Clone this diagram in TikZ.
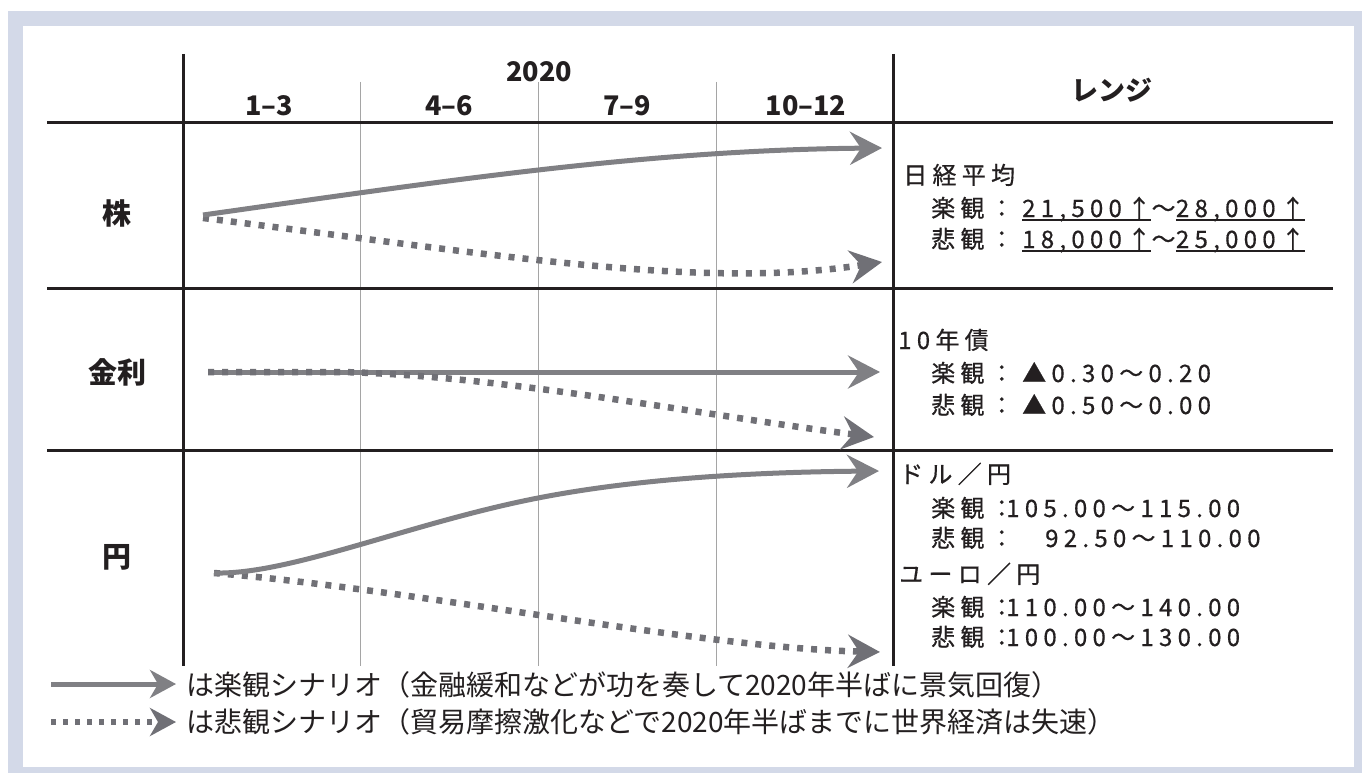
\documentclass[tikz,border=0pt]{standalone}
\usepackage{fontspec}
\setmainfont{Noto Sans CJK JP}
\newfontfamily\jp{Noto Sans CJK JP}
\newfontfamily\jpsp[LetterSpace=22,FakeBold=0.6]{Noto Sans CJK JP}
\usetikzlibrary{arrows.meta}
\definecolor{framebg}{RGB}{211,217,232}
\definecolor{solidgray}{RGB}{128,128,132}
\definecolor{dotgray}{RGB}{112,112,118}
\definecolor{inkblack}{RGB}{35,31,32}
\definecolor{gridgray}{RGB}{165,165,165}
\tikzset{
  rulel/.style={draw=inkblack, line width=3pt},
  gridl/.style={draw=gridgray, line width=1.4pt},
  optl/.style={draw=solidgray, line width=5pt, -{Stealth[length=32pt,width=33pt,inset=11pt]}},
  pesl/.style={draw=dotgray, line width=6.5pt, dash pattern=on 6pt off 8pt, -{Stealth[length=32pt,width=33pt,inset=11pt,fill=dotgray]}},
  legopt/.style={draw=solidgray, line width=5pt, -{Stealth[length=26pt,width=28pt,inset=8pt]}},
  legpes/.style={draw=dotgray, line width=5.5pt, dash pattern=on 5pt off 7pt, -{Stealth[length=26pt,width=28pt,inset=8pt]}},
  hdr/.style={font=\jp\bfseries\fontsize{27}{27}\selectfont, inner sep=0pt, text=inkblack},
  rowlab/.style={font=\jp\bfseries\fontsize{29}{29}\selectfont, inner sep=0pt, text=inkblack},
  rng/.style={font=\jpsp\fontsize{24}{24}\selectfont, inner sep=0pt, anchor=base west, text=inkblack},
  leg/.style={font=\jp\fontsize{28}{28}\selectfont, inner sep=0pt, anchor=west, text=inkblack},
  ulin/.style={draw=inkblack, line width=1.8pt},
}
\begin{document}
\begin{tikzpicture}[x=1pt,y=-1pt]
\useasboundingbox (0,0) rectangle (1362,773);
% frame
\fill[framebg] (8,11) rectangle (1362,773);
\fill[white] (23,26) rectangle (1354,767);
% grid
\draw[gridl] (360.5,82) -- (360.5,666);
\draw[gridl] (538.5,82) -- (538.5,666);
\draw[gridl] (716.5,82) -- (716.5,666);
\draw[rulel] (183,54) -- (183,666);
\draw[rulel] (893,54) -- (893,666);
\draw[rulel] (47,123) -- (1333,123);
\draw[rulel] (47,288) -- (1333,288);
\draw[rulel] (47,450) -- (1333,450);
% header
\node[hdr] (yr) at (539,72) {2020};
\node[hdr] (q1) at (269,106) {1–3};
\node[hdr] (q2) at (449,106) {4–6};
\node[hdr] (q3) at (627,106) {7–9};
\node[hdr] (q4) at (806,106) {10–12};
\node[hdr] (rg) at (1112,90) {レンジ};
% row labels
\node[rowlab] (kabu) at (117,213) {株};
\node[rowlab] (kinri) at (117,372) {金利};
\node[rowlab] (en) at (117,557) {円};
% arrows row 1
\coordinate (a1s) at (203,215);
\coordinate (a1e) at (882,148);
\coordinate (b1s) at (203,218);
\coordinate (b1e) at (882,262);
\draw[pesl] (b1s) .. controls (500,255) and (700,290) .. (b1e);
\draw[optl] (a1s) .. controls (450,180) and (650,150) .. (a1e);
% row 2
\coordinate (a2s) at (208,372);
\coordinate (a2e) at (880,372);
\coordinate (b2m) at (340,372);
\coordinate (b2e) at (874,437);
\draw[optl] (a2s) -- (a2e);
\draw[pesl] (a2s) -- (b2m) .. controls (500,375) and (700,415) .. (b2e);
% row 3
\coordinate (a3s) at (214,573);
\coordinate (a3m) at (538,498);
\coordinate (a3e) at (879,471);
\coordinate (b3e) at (880,652);
\draw[pesl] (a3s) .. controls (420,590) and (700,648) .. (b3e);
\draw[optl] (a3s) .. controls (290,575) and (410,523) .. (a3m) .. controls (640,478) and (760,472) .. (a3e);
% range texts row 1
\node[rng] (n1) at (903,184) {日経平均};
\node[rng] (n1a) at (931,217) {楽観：};
\node[rng] (n1b) at (1022,217) {21,500↑};
\node[rng] (n1t) at (n1b.base east) {～};
\node[rng] (n1c) at (n1t.base east) {28,000↑};
\node[rng] (n1d) at (931,248) {悲観：};
\node[rng] (n1e) at (1022,248) {18,000↑};
\node[rng] (n1u) at (n1e.base east) {～};
\node[rng] (n1f) at (n1u.base east) {25,000↑};
\draw[ulin] ([yshift=-3pt]n1b.base west) -- ([yshift=-3pt]n1b.base east);
\draw[ulin] ([yshift=-3pt]n1c.base west) -- ([yshift=-3pt]n1c.base east);
\draw[ulin] ([yshift=-3pt]n1e.base west) -- ([yshift=-3pt]n1e.base east);
\draw[ulin] ([yshift=-3pt]n1f.base west) -- ([yshift=-3pt]n1f.base east);
% row 2
\node[rng] (n2) at (898,349) {10年債};
\node[rng] (n2a) at (931,382) {楽観：};
\node[rng] (n2b) at (1022,382) {▲0.30～0.20};
\node[rng] (n2c) at (931,414) {悲観：};
\node[rng] (n2d) at (1022,414) {▲0.50～0.00};
% row 3
\node[rng] (n3) at (899,483) {ドル／円};
\node[rng] (n3a) at (931,517) {楽観：};
\node[rng] (n3b) at (1006,517) {105.00～115.00};
\node[rng] (n3c) at (931,547) {悲観：};
\node[rng] (n3d) at (1045,547) {92.50～110.00};
\node[rng] (n3e) at (899,583) {ユーロ／円};
\node[rng] (n3f) at (931,616) {楽観：};
\node[rng] (n3g) at (1006,616) {110.00～140.00};
\node[rng] (n3h) at (931,646) {悲観：};
\node[rng] (n3i) at (1006,646) {100.00～130.00};
% legend
\coordinate (l1s) at (51,684);
\coordinate (l1e) at (176,684);
\coordinate (l2s) at (51,722);
\coordinate (l2e) at (176,722);
\draw[legopt] (l1s) -- (l1e);
\draw[legpes] (l2s) -- (l2e);
\node[leg] (t1) at (186,685) {は楽観シナリオ（金融緩和などが功を奏して2020年半ばに景気回復）};
\node[leg] (t2) at (186,722) {は悲観シナリオ（貿易摩擦激化などで2020年半ばまでに世界経済は失速）};
\end{tikzpicture}
\end{document}
